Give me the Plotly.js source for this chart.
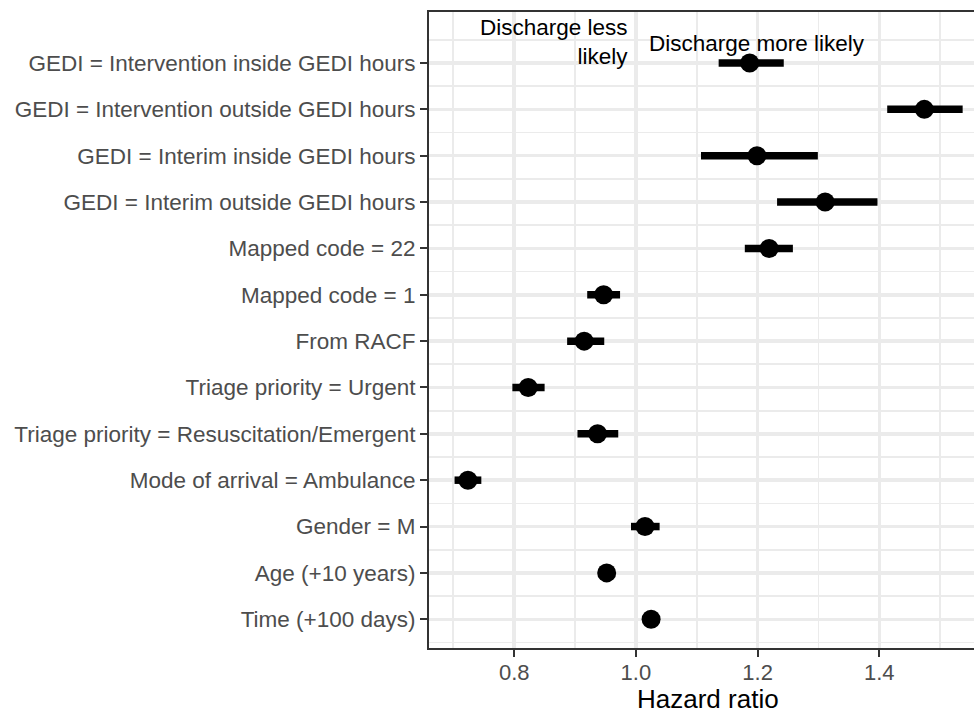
<!DOCTYPE html>
<html>
<head>
<meta charset="utf-8">
<script src="https://cdn.plot.ly/plotly-3.0.1.min.js"></script>
<style>
html, body { margin: 0; padding: 0; overflow: hidden; background: #fff; }
#chart { width: 990px; height: 713px; }
</style>
</head>
<body>
<div id="chart"></div>
<script>
// Terms, listed top to bottom
const labels = [
  "GEDI = Intervention inside GEDI hours",
  "GEDI = Intervention outside GEDI hours",
  "GEDI = Interim inside GEDI hours",
  "GEDI = Interim outside GEDI hours",
  "Mapped code = 22",
  "Mapped code = 1",
  "From RACF",
  "Triage priority = Urgent",
  "Triage priority = Resuscitation/Emergent",
  "Mode of arrival = Ambulance",
  "Gender = M",
  "Age (+10 years)",
  "Time (+100 days)"
];
const hazardRatio = [1.187, 1.474, 1.199, 1.311, 1.219, 0.947, 0.915, 0.823, 0.937, 0.724, 1.015, 0.952, 1.025];
const ciLower     = [1.136, 1.413, 1.107, 1.232, 1.179, 0.920, 0.887, 0.797, 0.904, 0.702, 0.992, 0.940, 1.018];
const ciUpper     = [1.243, 1.537, 1.299, 1.397, 1.258, 0.974, 0.948, 0.850, 0.971, 0.746, 1.039, 0.964, 1.032];
const xTicks = [0.8, 1.0, 1.2, 1.4];
const noteLess = "Discharge less<br>likely";
const noteMore = "Discharge more likely";
const xTitle = "Hazard ratio";

const n = labels.length;
const yPos = labels.map((_, i) => n - i);

const FONT = "Liberation Sans, Arial, Helvetica, sans-serif";

const trace = {
  type: "scatter",
  mode: "markers",
  x: hazardRatio,
  y: yPos,
  marker: { color: "#000000", size: 19, line: { width: 0 } },
  error_x: {
    type: "data",
    symmetric: false,
    array: hazardRatio.map((v, i) => ciUpper[i] - v),
    arrayminus: hazardRatio.map((v, i) => v - ciLower[i]),
    color: "#000000",
    thickness: 7.5,
    width: 0
  },
  hoverinfo: "x+y",
  showlegend: false,
  cliponaxis: true
};

const layout = {
  width: 990,
  height: 713,
  margin: { l: 429, r: 3, t: 12, b: 65 },
  paper_bgcolor: "#ffffff",
  plot_bgcolor: "#ffffff",
  font: { family: FONT, color: "#4D4D4D", size: 22.5 },
  showlegend: false,
  xaxis: {
    range: [0.660, 1.577],
    tickmode: "array",
    tickvals: xTicks,
    tickformat: ".1f",
    ticks: "outside",
    ticklen: 7,
    tickwidth: 2,
    tickcolor: "#333333",
    ticklabelstandoff: -3,
    tickfont: { family: FONT, size: 22, color: "#4D4D4D" },
    showline: true,
    linecolor: "#333333",
    linewidth: 2,
    mirror: true,
    showgrid: true,
    gridcolor: "#EBEBEB",
    gridwidth: 3.5,
    zeroline: false,
    minor: { tickmode: "linear", tick0: 0.7, dtick: 0.2, showgrid: true, gridcolor: "#EBEBEB", gridwidth: 1.7, ticks: "" },
    automargin: false
  },
  yaxis: {
    range: [0.38, 14.1],
    tickmode: "array",
    tickvals: yPos,
    ticktext: labels,
    ticks: "outside",
    ticklen: 7,
    tickwidth: 2,
    tickcolor: "#333333",
    tickfont: { family: FONT, size: 22.5, color: "#4D4D4D" },
    showline: true,
    linecolor: "#333333",
    linewidth: 2,
    mirror: true,
    showgrid: true,
    gridcolor: "#EBEBEB",
    gridwidth: 3.5,
    zeroline: false,
    minor: { tickmode: "linear", tick0: 0.5, dtick: 1, showgrid: true, gridcolor: "#EBEBEB", gridwidth: 1.7, ticks: "" },
    automargin: false
  },
  shapes: [{
    type: "line",
    xref: "x", yref: "paper",
    x0: 1.0, x1: 1.0, y0: 0, y1: 1,
    line: { color: "#BEBEBE", width: 3, dash: "10px,3px" },
    layer: "between"
  }],
  annotations: [
    {
      x: 0.99, y: 13.46, xref: "x", yref: "y",
      text: noteLess, showarrow: false,
      xanchor: "right", yanchor: "middle", align: "right",
      font: { family: FONT, size: 22.5, color: "#000000" }
    },
    {
      x: 1.019, y: 13.42, xref: "x", yref: "y",
      text: noteMore, showarrow: false,
      xanchor: "left", yanchor: "middle", align: "left",
      font: { family: FONT, size: 22.5, color: "#000000" }
    },
    {
      x: 0.5, y: -0.080, xref: "paper", yref: "paper",
      text: xTitle, showarrow: false,
      xanchor: "center", yanchor: "middle",
      font: { family: FONT, size: 26, color: "#000000" }
    }
  ]
};

Plotly.newPlot("chart", [trace], layout, { displayModeBar: false, staticPlot: true });
</script>
</body>
</html>
